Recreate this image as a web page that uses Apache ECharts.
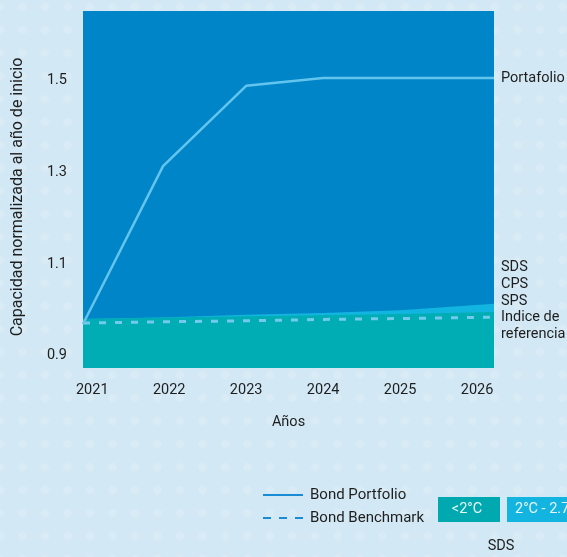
<!DOCTYPE html>
<html>
<head>
<meta charset="utf-8">
<script src="https://cdn.jsdelivr.net/npm/echarts/dist/echarts.min.js"></script>
<style>
  html, body { margin: 0; padding: 0; }
  body {
    width: 567px; height: 557px; overflow: hidden;
    background-color: #d2e8f4;
    background-image: radial-gradient(circle, rgba(255,255,255,0.16) 0, rgba(255,255,255,0.16) 3.8px, rgba(255,255,255,0) 4.6px);
    background-size: 22.5px 23px;
    background-position: -11.25px -4.5px;
  }
  #chart { width: 567px; height: 557px; }
</style>
</head>
<body>
<div id="chart"></div>
<script>
// Axis extent (years) and tick labels
const X_MIN = 2020.88;
const X_MAX = 2026.22;
const years = [2021, 2022, 2023, 2024, 2025, 2026];
const yTicks = [0.9, 1.1, 1.3, 1.5];

// Bond portfolio capacity path [year, normalised capacity]
const portfolio = [[2020.88, 0.969], [2021.92, 1.313], [2023.0, 1.488], [2024.0, 1.505], [2025.0, 1.505], [2026.22, 1.505]];

// Bond benchmark
const benchmark = [[2020.88, 0.971], [2022, 0.974], [2023, 0.976], [2024, 0.979], [2025, 0.981], [2026.22, 0.984]];

// SDS scenario bands: upper edge of the <2°C band and of the 2°C - 2.7°C band
const bandBelow2 = [[2020.88, 0.980], [2022, 0.983], [2023, 0.986], [2024, 0.988], [2025, 0.991], [2026.22, 0.995]];
const band2to27 = [[2020.88, 0.980], [2022, 0.984], [2023, 0.989], [2024, 0.993], [2025, 0.999], [2026.22, 1.013]];

const FONT = 'Roboto';
const TXT = '#1e1e1e';
const BLUE = '#0086c8';
const TEAL = '#00adb4';
const CYAN = '#12b5e0';
const LINE = '#63c4ee';

const chart = echarts.init(document.getElementById('chart'), null, { renderer: 'canvas' });

chart.setOption({
  backgroundColor: 'transparent',
  animation: false,
  textStyle: { fontFamily: FONT },
  grid: {
    left: 83, right: 73, top: 11, bottom: 189,
    show: true, backgroundColor: BLUE, borderWidth: 0
  },
  xAxis: {
    type: 'value',
    min: X_MIN, max: X_MAX,
    name: 'Años',
    nameLocation: 'middle',
    nameGap: 47,
    nameTextStyle: { fontFamily: FONT, fontSize: 14.5, color: TXT },
    axisLine: { show: false },
    axisTick: { show: false },
    splitLine: { show: false },
    axisLabel: {
      customValues: years,
      formatter: v => String(v),
      fontFamily: FONT, fontSize: 14.5, color: TXT, margin: 15
    }
  },
  yAxis: {
    type: 'value',
    min: 0.8732, max: 1.651,
    axisLine: { show: false },
    axisTick: { show: false },
    splitLine: { show: false },
    axisLabel: {
      customValues: yTicks,
      formatter: v => v.toFixed(1),
      fontFamily: FONT, fontSize: 14.5, color: TXT, margin: 16
    }
  },
  series: [
    {
      name: '2°C - 2.7°C',
      type: 'line',
      data: band2to27,
      symbol: 'none',
      lineStyle: { width: 0 },
      areaStyle: { color: CYAN, opacity: 1, origin: 'start' },
      z: 1
    },
    {
      name: '<2°C',
      type: 'line',
      data: bandBelow2,
      symbol: 'none',
      lineStyle: { width: 0 },
      areaStyle: { color: TEAL, opacity: 1, origin: 'start' },
      z: 2
    },
    {
      name: 'Bond Benchmark',
      type: 'line',
      data: benchmark,
      symbol: 'none',
      lineStyle: { color: '#72cbea', width: 3, type: [7, 9] },
      z: 3
    },
    {
      name: 'Bond Portfolio',
      type: 'line',
      data: portfolio,
      symbol: 'none',
      lineStyle: { color: LINE, width: 2.5 },
      endLabel: {
        show: true,
        formatter: 'Portafolio',
        distance: 7,
        fontFamily: FONT, fontSize: 14.5, color: TXT
      },
      z: 4
    }
  ],
  graphic: [
    // y-axis title
    {
      type: 'text', x: 18, y: 197, rotation: Math.PI / 2,
      style: {
        text: 'Capacidad normalizada al año de inicio',
        font: '16px Roboto', fill: TXT, align: 'center', verticalAlign: 'middle'
      }
    },
    {
      type: 'text', left: 501, top: 259,
      style: {
        text: 'SDS\nCPS\nSPS\nIndice de\nreferencia',
        font: '14.5px Roboto', fill: TXT, lineHeight: 16.75
      }
    },
    // legend: line styles
    { type: 'line', shape: { x1: 263, y1: 495, x2: 303, y2: 495 }, style: { stroke: '#1a8bd5', lineWidth: 2 } },
    { type: 'text', x: 310, y: 495, style: { text: 'Bond Portfolio', font: '15px Roboto', fill: TXT, verticalAlign: 'middle' } },
    { type: 'line', shape: { x1: 263, y1: 518, x2: 303, y2: 518 }, style: { stroke: '#1a8bd5', lineWidth: 2, lineDash: [8, 8] } },
    { type: 'text', x: 310, y: 518, style: { text: 'Bond Benchmark', font: '15px Roboto', fill: TXT, verticalAlign: 'middle' } },
    // legend: SDS temperature bands
    { type: 'rect', shape: { x: 438, y: 497, width: 62, height: 25 }, style: { fill: '#00a9b0' } },
    { type: 'text', x: 467, y: 509.5, style: { text: '<2°C', font: '14.5px Roboto', fill: '#eaf7f8', align: 'center', verticalAlign: 'middle' } },
    { type: 'rect', shape: { x: 507, y: 497, width: 80, height: 25 }, style: { fill: '#14b4e0' } },
    { type: 'text', x: 515, y: 509.5, style: { text: '2°C - 2.7°C', font: '14.5px Roboto', fill: '#eaf7fb', align: 'left', verticalAlign: 'middle' } },
    { type: 'text', x: 501, y: 546, style: { text: 'SDS', font: '14.5px Roboto', fill: TXT, align: 'center', verticalAlign: 'middle' } }
  ]
});
</script>
</body>
</html>
